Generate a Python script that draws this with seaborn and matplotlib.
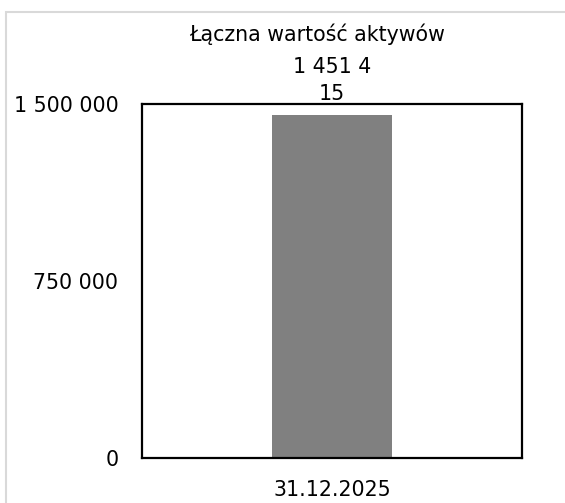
import matplotlib
matplotlib.use("Agg")
import matplotlib.pyplot as plt
import seaborn as sns
import pandas as pd
from matplotlib.patches import Rectangle

categories = ["31.12.2025"]
values = [1451415]
y_ticks = [0, 750000, 1500000]
title = "Łączna wartość aktywów"

sns.set_theme(style="white")
plt.rcParams['font.family'] = ['DejaVu Sans']

df = pd.DataFrame({"date": categories, "value": values})

W, H = 565, 503
FS = 14.8
fig = plt.figure(figsize=(W / 100, H / 100), dpi=100)
ax = fig.add_axes([142 / W, 1 - 458 / H, 380 / W, 354 / H])

sns.barplot(data=df, x="date", y="value", color="#808080", width=0.316,
            saturation=1, ax=ax)
ax.patches[0].set_edgecolor("none")

ax.set_ylim(0, 1500000)
ax.set_xlim(-0.5, 0.5)
ax.set_yticks(y_ticks)
ax.set_yticklabels([f"{v:,}".replace(",", " ") for v in y_ticks])
ax.set_xlabel("")
ax.set_ylabel("")
ax.tick_params(axis="y", length=0, pad=17, labelsize=FS, labelcolor="black")
ax.tick_params(axis="x", length=0, pad=16, labelsize=FS, labelcolor="black")
for s in ax.spines.values():
    s.set_visible(True)
    s.set_color("black")
    s.set_linewidth(1.6)

labels = []
for v in values:
    s = f"{v:,}".replace(",", " ")
    labels.append(s[:7] + "\n" + s[7:])
ax.bar_label(ax.containers[0], labels=labels, padding=8, fontsize=FS,
             color="black", linespacing=1.45)

fig.text(317 / W, 1 - 34 / H, title, ha="center", va="center",
         fontsize=FS, color="black")

fig.patches.append(Rectangle((6 / W, -0.1), 1.2, 1 - 12 / H + 0.1,
                             transform=fig.transFigure, fill=False,
                             edgecolor="#d9d9d9", linewidth=1.5, zorder=-1))

fig.savefig("out.png", dpi=100)
